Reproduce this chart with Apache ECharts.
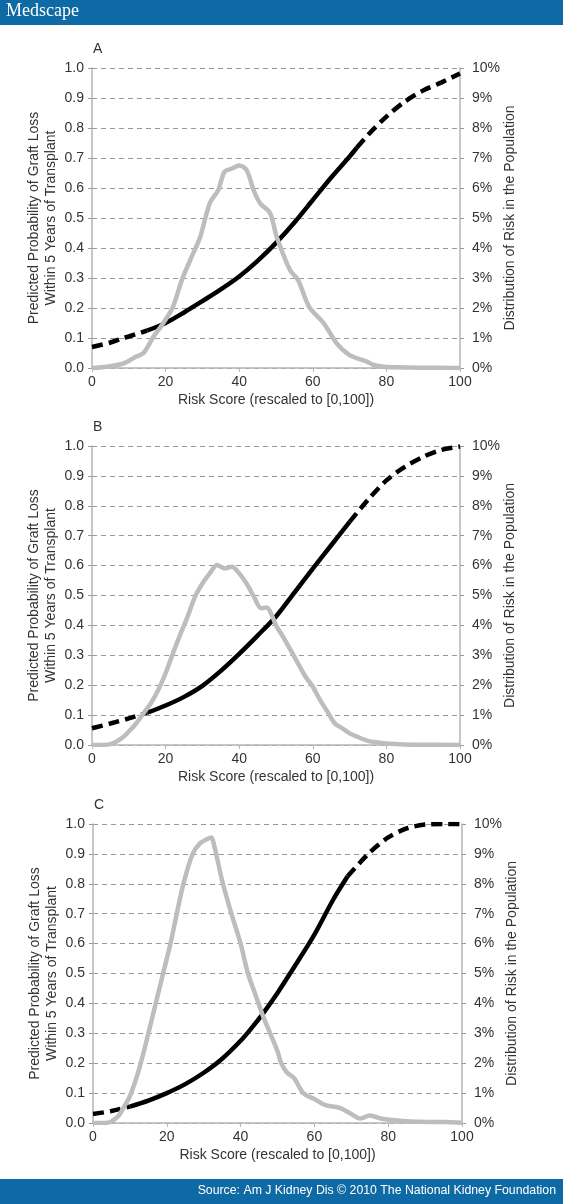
<!DOCTYPE html>
<html>
<head>
<meta charset="utf-8">
<script src="https://cdn.jsdelivr.net/npm/echarts@6/dist/echarts.min.js"></script>
<style>
html,body{margin:0;padding:0;background:#fff;}
#chart{width:563px;height:1204px;}
</style>
</head>
<body>
<div id="chart"></div>
<script>
// ---------- data ----------
const panelLetters = ['A', 'B', 'C'];
const xTicks = [0, 20, 40, 60, 80, 100];

// Panel A – predicted probability (left axis)
const probX_A = [0, 5, 8.5, 10, 15, 20, 25, 30, 35, 40, 45, 50, 55, 60, 65, 70, 72, 75, 80, 85, 90, 95, 100];
const probY_A = [0.07, 0.085, 0.1, 0.105, 0.125, 0.15, 0.185, 0.223, 0.262, 0.305, 0.357, 0.417, 0.485, 0.56, 0.635, 0.705, 0.735, 0.777, 0.838, 0.888, 0.925, 0.952, 0.982];
const solidRange_A = [15, 72];
// Panel A – distribution (right axis, %)
const distX_A = [0, 4, 8.5, 12, 14, 16.7, 19.4, 22, 24.4, 26.7, 29.4, 32, 34.3, 36, 38, 40, 42, 44, 45.7, 48.4, 50.2, 53.8, 56, 59, 63, 66.5, 70, 74.7, 76.5, 80, 85, 90, 95, 100];
const distY_A = [0, 0.04, 0.15, 0.38, 0.5, 1.04, 1.5, 2.04, 2.93, 3.6, 4.37, 5.49, 5.93, 6.54, 6.65, 6.75, 6.6, 5.9, 5.49, 5.16, 4.37, 3.27, 2.93, 2.04, 1.49, 0.82, 0.43, 0.21, 0.1, 0.03, 0.02, 0.01, 0.01, 0];

// Panel B
const probX_B = [0, 5, 10, 15, 20, 25, 30, 35, 40, 45, 50, 55, 60, 65, 70, 75, 80, 85, 90, 95, 100];
const probY_B = [0.056, 0.072, 0.089, 0.108, 0.132, 0.161, 0.198, 0.248, 0.305, 0.366, 0.43, 0.51, 0.59, 0.668, 0.746, 0.82, 0.885, 0.93, 0.964, 0.987, 0.998];
const solidRange_B = [15, 70];
const distX_B = [0, 5, 8, 10, 12, 14, 16, 18, 20, 22, 24, 26, 28, 30, 32, 34, 35, 36, 38, 40, 42, 44, 46, 47.5, 49, 50, 52, 55, 58, 60, 62, 64, 66, 68, 70, 72, 75, 78, 80, 85, 90, 100];
const distY_B = [0, 0.03, 0.22, 0.45, 0.72, 1.06, 1.4, 1.84, 2.4, 3.07, 3.7, 4.3, 4.96, 5.4, 5.74, 6.02, 5.96, 5.9, 5.96, 5.74, 5.4, 4.96, 4.57, 4.6, 4.3, 4.0, 3.6, 2.95, 2.29, 1.95, 1.5, 1.11, 0.72, 0.56, 0.39, 0.28, 0.14, 0.08, 0.05, 0.02, 0.01, 0];

// Panel C
const probX_C = [0, 5, 10, 15, 20, 25, 30, 35, 40, 43, 46, 50, 53.4, 60, 65, 69, 75, 80, 85, 90, 95, 100];
const probY_C = [0.03, 0.04, 0.055, 0.075, 0.1, 0.13, 0.168, 0.215, 0.275, 0.318, 0.365, 0.435, 0.5, 0.63, 0.745, 0.825, 0.905, 0.955, 0.985, 0.998, 1.0, 1.0];
const solidRange_C = [10, 69];
const distX_C = [0, 3, 5, 7, 8, 10, 12, 14, 16, 18, 19, 21, 22.7, 24.5, 27, 29, 31, 32, 33, 35, 37.5, 40, 42, 44, 46, 48, 50, 51, 52.5, 54.5, 57, 60, 63, 67, 70, 72.5, 75, 78, 81, 86, 95, 100];
const distY_C = [0, 0, 0.05, 0.25, 0.45, 0.9, 1.6, 2.5, 3.5, 4.5, 5.0, 6.0, 7.0, 8.0, 9.0, 9.35, 9.5, 9.55, 9.2, 8.1, 7.0, 6.0, 5.0, 4.3, 3.6, 3.0, 2.4, 2.0, 1.7, 1.5, 1.0, 0.8, 0.6, 0.5, 0.3, 0.15, 0.25, 0.15, 0.1, 0.05, 0.03, 0.01];

const leftAxisName = 'Predicted Probability of Graft Loss\nWithin 5 Years of Transplant';
const rightAxisName = 'Distribution of Risk in the Population';
const xAxisName = 'Risk Score (rescaled to [0,100])';
const sourceText = 'Source: Am J Kidney Dis \u00A9 2010 The National Kidney Foundation';

// ---------- build ----------
const panels = [
  {px: probX_A, py: probY_A, solid: solidRange_A, dx: distX_A, dy: distY_A},
  {px: probX_B, py: probY_B, solid: solidRange_B, dx: distX_B, dy: distY_B},
  {px: probX_C, py: probY_C, solid: solidRange_C, dx: distX_C, dy: distY_C}
];
const gridBoxes = [
  {left: 92, top: 68, width: 368, height: 300},
  {left: 92, top: 446, width: 368, height: 299},
  {left: 93, top: 824, width: 369, height: 299}
];
const FONT = '"Liberation Sans", Arial, sans-serif';
const TXT = '#333';
const AXC = '#b5b5b5';

const pairs = (xs, ys, f) => xs.map((x, i) => [x, ys[i]]).filter(p => f(p[0]));

const xAxes = [], yAxes = [], series = [], graphics = [];
panels.forEach((p, i) => {
  xAxes.push({
    type: 'value', gridIndex: i, min: 0, max: 100, interval: 20,
    name: xAxisName, nameLocation: 'middle', nameGap: 25, nameMoveOverlap: false,
    nameTextStyle: {fontFamily: FONT, fontSize: 14, color: TXT},
    axisLine: {lineStyle: {color: AXC, width: 1.5}},
    axisTick: {show: true, length: 4, lineStyle: {color: AXC}},
    axisLabel: {fontFamily: FONT, fontSize: 14, color: TXT, margin: 7},
    splitLine: {show: false}
  });
  yAxes.push({
    type: 'value', gridIndex: i, position: 'left', min: 0, max: 1, interval: 0.1,
    name: leftAxisName, nameLocation: 'middle', nameRotate: 90, nameGap: 32, nameMoveOverlap: false,
    nameTextStyle: {fontFamily: FONT, fontSize: 14, color: TXT, lineHeight: 17},
    axisLine: {show: true, lineStyle: {color: AXC, width: 1.5}},
    axisTick: {show: true, length: 4, lineStyle: {color: '#999'}},
    axisLabel: {fontFamily: FONT, fontSize: 14, color: TXT, margin: 8, formatter: v => v.toFixed(1)},
    splitLine: {show: true, lineStyle: {color: '#9a9a9a', type: [5, 4], width: 1}}
  });
  yAxes.push({
    type: 'value', gridIndex: i, position: 'right', min: 0, max: 10, interval: 1,
    name: rightAxisName, nameLocation: 'middle', nameRotate: 90, nameGap: 43, nameMoveOverlap: false,
    nameTextStyle: {fontFamily: FONT, fontSize: 14, color: TXT},
    axisLine: {show: true, lineStyle: {color: AXC, width: 1.5}},
    axisTick: {show: true, length: 4, lineStyle: {color: '#999'}},
    axisLabel: {fontFamily: FONT, fontSize: 14, color: TXT, margin: 12, formatter: v => Math.round(v) + '%'},
    splitLine: {show: false}
  });
  const lo = p.solid[0], hi = p.solid[1];
  const blackBase = {type: 'line', xAxisIndex: i, yAxisIndex: 2 * i, showSymbol: false, symbol: 'none', smooth: 0.3, z: 3};
  series.push(Object.assign({}, blackBase, {
    data: pairs(p.px, p.py, x => x <= lo),
    lineStyle: {color: '#000', width: 4.5, type: [11, 6], cap: 'butt'}
  }));
  series.push(Object.assign({}, blackBase, {
    data: pairs(p.px, p.py, x => x >= lo && x <= hi),
    lineStyle: {color: '#000', width: 4.5, type: 'solid'}
  }));
  series.push(Object.assign({}, blackBase, {
    data: pairs(p.px, p.py, x => x >= hi),
    lineStyle: {color: '#000', width: 4.5, type: [11, 6], cap: 'butt'}
  }));
  series.push({
    type: 'line', xAxisIndex: i, yAxisIndex: 2 * i + 1, showSymbol: false, symbol: 'none', smooth: 0.3, z: 4,
    data: pairs(p.dx, p.dy, () => true),
    lineStyle: {color: '#bdbdbd', width: 4.5}
  });
  graphics.push({
    type: 'text', left: gridBoxes[i].left + 1, top: gridBoxes[i].top - 26,
    style: {text: panelLetters[i], font: '14px ' + FONT, fill: TXT}
  });
});

graphics.push({type: 'rect', left: 0, top: 0, shape: {width: 563, height: 25}, style: {fill: '#0e6aa5'}});
graphics.push({type: 'text', left: 6, top: 2, style: {text: 'Medscape', font: '18px "Liberation Serif", "DejaVu Serif", serif', fill: '#fff'}});
graphics.push({type: 'rect', left: 0, top: 1179, shape: {width: 563, height: 25}, style: {fill: '#0e6aa5'}});
graphics.push({type: 'text', right: 7, top: 1185, style: {text: sourceText, font: '12.3px ' + FONT, fill: '#fff'}});

const chart = echarts.init(document.getElementById('chart'), null, {renderer: 'canvas'});
chart.setOption({
  animation: false,
  backgroundColor: '#fff',
  grid: gridBoxes,
  xAxis: xAxes,
  yAxis: yAxes,
  series: series,
  graphic: graphics
});
</script>
</body>
</html>
